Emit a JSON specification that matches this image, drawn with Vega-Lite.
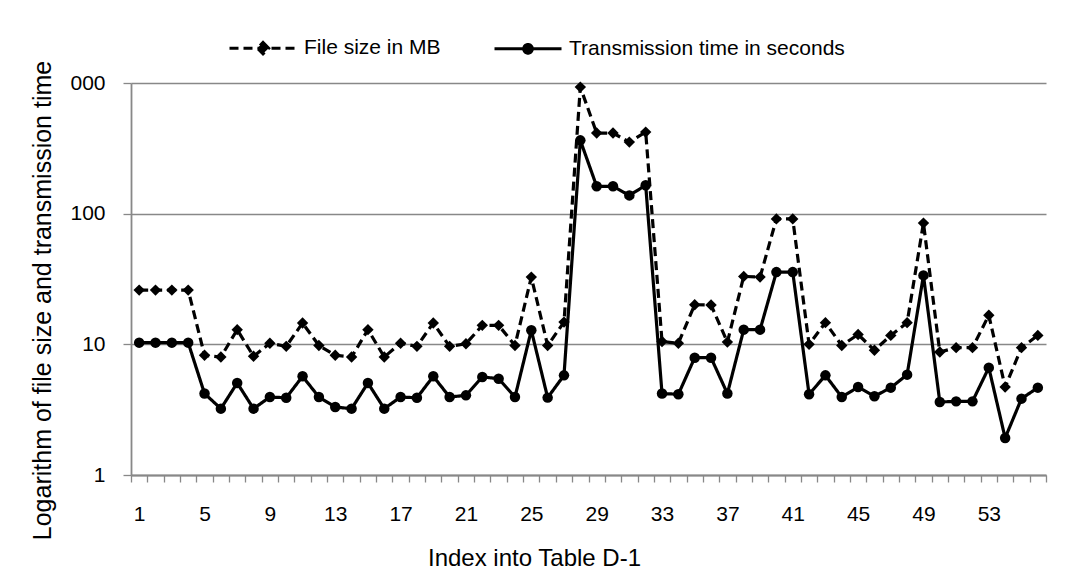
{
  "$schema": "https://vega.github.io/schema/vega-lite/v6.json",
  "width": 915,
  "height": 392,
  "autosize": {"type": "none"},
  "padding": {"left": 131, "top": 83, "right": 19, "bottom": 109},
  "background": "white",
  "config": {
    "view": {"stroke": null},
    "font": "Liberation Sans",
    "axis": {"labelFont": "Liberation Sans", "titleFont": "Liberation Sans", "labelColor": "black", "titleColor": "black", "titleFontWeight": "normal", "domainColor": "#888888", "tickColor": "#888888", "gridColor": "#888888"}
  },
  "data": {"values": [
    {"index":1,"series":"File size in MB","value":26},
    {"index":2,"series":"File size in MB","value":26},
    {"index":3,"series":"File size in MB","value":26},
    {"index":4,"series":"File size in MB","value":26},
    {"index":5,"series":"File size in MB","value":8.24},
    {"index":6,"series":"File size in MB","value":8.0},
    {"index":7,"series":"File size in MB","value":12.95},
    {"index":8,"series":"File size in MB","value":8.1},
    {"index":9,"series":"File size in MB","value":10.2},
    {"index":10,"series":"File size in MB","value":9.65},
    {"index":11,"series":"File size in MB","value":14.55},
    {"index":12,"series":"File size in MB","value":9.8},
    {"index":13,"series":"File size in MB","value":8.24},
    {"index":14,"series":"File size in MB","value":8.0},
    {"index":15,"series":"File size in MB","value":12.95},
    {"index":16,"series":"File size in MB","value":8.0},
    {"index":17,"series":"File size in MB","value":10.2},
    {"index":18,"series":"File size in MB","value":9.65},
    {"index":19,"series":"File size in MB","value":14.55},
    {"index":20,"series":"File size in MB","value":9.65},
    {"index":21,"series":"File size in MB","value":10.1},
    {"index":22,"series":"File size in MB","value":13.97},
    {"index":23,"series":"File size in MB","value":13.97},
    {"index":24,"series":"File size in MB","value":9.8},
    {"index":25,"series":"File size in MB","value":32.7},
    {"index":26,"series":"File size in MB","value":9.8},
    {"index":27,"series":"File size in MB","value":14.8},
    {"index":28,"series":"File size in MB","value":930},
    {"index":29,"series":"File size in MB","value":414},
    {"index":30,"series":"File size in MB","value":414},
    {"index":31,"series":"File size in MB","value":353},
    {"index":32,"series":"File size in MB","value":421},
    {"index":33,"series":"File size in MB","value":10.5},
    {"index":34,"series":"File size in MB","value":10.2},
    {"index":35,"series":"File size in MB","value":20.1},
    {"index":36,"series":"File size in MB","value":20.0},
    {"index":37,"series":"File size in MB","value":10.4},
    {"index":38,"series":"File size in MB","value":33.1},
    {"index":39,"series":"File size in MB","value":32.7},
    {"index":40,"series":"File size in MB","value":91.2},
    {"index":41,"series":"File size in MB","value":91.2},
    {"index":42,"series":"File size in MB","value":10.0},
    {"index":43,"series":"File size in MB","value":14.65},
    {"index":44,"series":"File size in MB","value":9.8},
    {"index":45,"series":"File size in MB","value":11.9},
    {"index":46,"series":"File size in MB","value":9.0},
    {"index":47,"series":"File size in MB","value":11.7},
    {"index":48,"series":"File size in MB","value":14.65},
    {"index":49,"series":"File size in MB","value":84.7},
    {"index":50,"series":"File size in MB","value":8.73},
    {"index":51,"series":"File size in MB","value":9.43},
    {"index":52,"series":"File size in MB","value":9.43},
    {"index":53,"series":"File size in MB","value":16.7},
    {"index":54,"series":"File size in MB","value":4.71},
    {"index":55,"series":"File size in MB","value":9.43},
    {"index":56,"series":"File size in MB","value":11.7},
    {"index":1,"series":"Transmission time in seconds","value":10.3},
    {"index":2,"series":"Transmission time in seconds","value":10.3},
    {"index":3,"series":"Transmission time in seconds","value":10.3},
    {"index":4,"series":"Transmission time in seconds","value":10.3},
    {"index":5,"series":"Transmission time in seconds","value":4.2},
    {"index":6,"series":"Transmission time in seconds","value":3.22},
    {"index":7,"series":"Transmission time in seconds","value":5.06},
    {"index":8,"series":"Transmission time in seconds","value":3.22},
    {"index":9,"series":"Transmission time in seconds","value":3.95},
    {"index":10,"series":"Transmission time in seconds","value":3.9},
    {"index":11,"series":"Transmission time in seconds","value":5.69},
    {"index":12,"series":"Transmission time in seconds","value":3.95},
    {"index":13,"series":"Transmission time in seconds","value":3.31},
    {"index":14,"series":"Transmission time in seconds","value":3.22},
    {"index":15,"series":"Transmission time in seconds","value":5.06},
    {"index":16,"series":"Transmission time in seconds","value":3.22},
    {"index":17,"series":"Transmission time in seconds","value":3.95},
    {"index":18,"series":"Transmission time in seconds","value":3.9},
    {"index":19,"series":"Transmission time in seconds","value":5.69},
    {"index":20,"series":"Transmission time in seconds","value":3.95},
    {"index":21,"series":"Transmission time in seconds","value":4.07},
    {"index":22,"series":"Transmission time in seconds","value":5.63},
    {"index":23,"series":"Transmission time in seconds","value":5.46},
    {"index":24,"series":"Transmission time in seconds","value":3.95},
    {"index":25,"series":"Transmission time in seconds","value":12.8},
    {"index":26,"series":"Transmission time in seconds","value":3.91},
    {"index":27,"series":"Transmission time in seconds","value":5.79},
    {"index":28,"series":"Transmission time in seconds","value":364},
    {"index":29,"series":"Transmission time in seconds","value":162},
    {"index":30,"series":"Transmission time in seconds","value":162},
    {"index":31,"series":"Transmission time in seconds","value":138},
    {"index":32,"series":"Transmission time in seconds","value":165},
    {"index":33,"series":"Transmission time in seconds","value":4.2},
    {"index":34,"series":"Transmission time in seconds","value":4.15},
    {"index":35,"series":"Transmission time in seconds","value":7.9},
    {"index":36,"series":"Transmission time in seconds","value":7.9},
    {"index":37,"series":"Transmission time in seconds","value":4.2},
    {"index":38,"series":"Transmission time in seconds","value":12.95},
    {"index":39,"series":"Transmission time in seconds","value":12.95},
    {"index":40,"series":"Transmission time in seconds","value":35.7},
    {"index":41,"series":"Transmission time in seconds","value":35.7},
    {"index":42,"series":"Transmission time in seconds","value":4.15},
    {"index":43,"series":"Transmission time in seconds","value":5.79},
    {"index":44,"series":"Transmission time in seconds","value":3.95},
    {"index":45,"series":"Transmission time in seconds","value":4.71},
    {"index":46,"series":"Transmission time in seconds","value":4.0},
    {"index":47,"series":"Transmission time in seconds","value":4.66},
    {"index":48,"series":"Transmission time in seconds","value":5.86},
    {"index":49,"series":"Transmission time in seconds","value":33.7},
    {"index":50,"series":"Transmission time in seconds","value":3.62},
    {"index":51,"series":"Transmission time in seconds","value":3.66},
    {"index":52,"series":"Transmission time in seconds","value":3.66},
    {"index":53,"series":"Transmission time in seconds","value":6.63},
    {"index":54,"series":"Transmission time in seconds","value":1.92},
    {"index":55,"series":"Transmission time in seconds","value":3.84},
    {"index":56,"series":"Transmission time in seconds","value":4.66}
  ]},
  "encoding": {
    "x": {
      "field": "index", "type": "ordinal",
      "scale": {"type": "band", "paddingInner": 0, "paddingOuter": 0},
      "axis": {
        "title": "Index into Table D-1",
        "titleFontSize": 24,
        "titleX": 403, "titleY": 90, "titleAlign": "center", "titleBaseline": "alphabetic",
        "labelAngle": 0, "labelFontSize": 21, "labelPadding": 21, "labelOverlap": false,
        "labelExpr": "(datum.value - 1) % 4 == 0 ? datum.label : ''",
        "tickBand": "extent", "tickSize": 7, "tickWidth": 1.3,
        "domainWidth": 1.8, "grid": false
      }
    },
    "y": {
      "field": "value", "type": "quantitative",
      "scale": {"type": "log", "domain": [1, 1000], "nice": false},
      "axis": {
        "title": "Logarithm of file size and transmission time",
        "titleFontSize": 25,
        "titleX": -81, "titleY": 217, "titleAlign": "center", "titleBaseline": "alphabetic", "titleAngle": 270,
        "values": [1, 10, 100, 1000],
        "labelExpr": "datum.value == 1000 ? '000' : datum.label",
        "labelFontSize": 21, "labelPadding": 18,
        "tickSize": 8, "tickWidth": 1.3, "domainWidth": 1.8,
        "grid": true, "gridWidth": 1.3
      }
    },
    "color": {
      "field": "series", "type": "nominal",
      "scale": {"domain": ["File size in MB", "Transmission time in seconds"], "range": ["black", "black"]},
      "legend": {
        "orient": "none", "legendX": 97, "legendY": -70, "direction": "horizontal",
        "title": null, "padding": 0, "labelLimit": 500,
        "labelFontSize": 21, "labelColor": "black", "labelOffset": 6, "columnPadding": 47,
        "symbolSize": 4489, "symbolStrokeWidth": 3, "symbolFillColor": "black", "symbolStrokeColor": "black",
        "encode": {
          "symbols": {
            "update": {
              "shape": {"signal": "datum.value == 'File size in MB' ? 'M-1,0H1M0,-0.17L0.17,0L0,0.17L-0.17,0Z' : 'M-1,0H1M-0.13,0A0.13,0.13,0,1,1,0.13,0A0.13,0.13,0,1,1,-0.13,0Z'"},
              "size": {"value": 4489},
              "strokeWidth": {"value": 3},
              "strokeDash": {"signal": "datum.value == 'File size in MB' ? [9, 5] : [1, 0]"},
              "fill": {"value": "black"},
              "stroke": {"value": "black"},
              "opacity": {"value": 1}
            }
          }
        }
      }
    }
  },
  "layer": [
    {
      "mark": {"type": "line", "strokeWidth": 3.2},
      "encoding": {
        "strokeDash": {
          "field": "series", "type": "nominal",
          "scale": {"domain": ["File size in MB", "Transmission time in seconds"], "range": [[9, 5], [1, 0]]},
          "legend": null
        }
      }
    },
    {
      "transform": [{"filter": "datum.series == 'File size in MB'"}],
      "mark": {"type": "point", "filled": true, "opacity": 1, "shape": "diamond", "size": 130}
    },
    {
      "transform": [{"filter": "datum.series == 'Transmission time in seconds'"}],
      "mark": {"type": "point", "filled": true, "opacity": 1, "shape": "circle", "size": 110}
    }
  ]
}
